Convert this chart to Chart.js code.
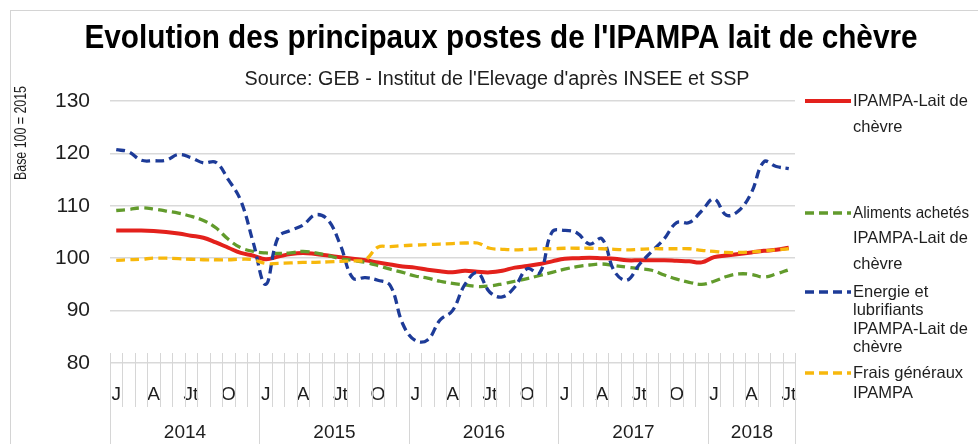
<!DOCTYPE html>
<html lang="fr">
<head>
<meta charset="utf-8">
<title>IPAMPA lait de chèvre</title>
<script src="https://cdn.jsdelivr.net/npm/chart.js@4/dist/chart.umd.min.js"></script>
<style>
  html, body { margin: 0; background: #fff; }
  #wrap { position: relative; width: 978px; height: 444px; overflow: hidden; }
  #frame { position: absolute; left: 10px; top: 10px; width: 980px; height: 450px;
           border-left: 1px solid #d4d4d4; border-top: 1px solid #d4d4d4; }
  canvas { position: absolute; left: 0; top: 0; }
</style>
</head>
<body>
<div id="wrap">
  <div id="frame"></div>
  <canvas id="chart" width="978" height="444"></canvas>
</div>
<script>
const FONT = "'Liberation Sans Narrow', 'Arial Narrow', 'Liberation Sans', Arial, sans-serif";
const INK = '#1e1e1e';

const years = ['2014', '2015', '2016', '2017', '2018'];
const quarterLetters = ['J', 'A', 'Jt', 'O'];

// Jan 2014 .. Jul 2018
const months = [];
years.forEach((y) => {
  const last = y === '2018' ? 7 : 12;
  for (let m = 1; m <= last; m++) months.push(`${y}-${String(m).padStart(2, '0')}`);
});

const ipampa = [
  105.3, 105.3, 105.3, 105.2, 105.0, 104.7, 104.3, 103.9, 103.0, 102.0, 101.0, 100.5,
  99.8, 100.3, 100.8, 101.0, 100.8, 100.5, 100.2, 99.9, 99.6, 99.2, 98.8, 98.4,
  98.2, 97.8, 97.5, 97.3, 97.6, 97.4, 97.3, 97.6, 98.2, 98.5, 98.9, 99.4,
  99.9, 100.0, 100.1, 100.0, 99.9, 99.6, 99.6, 99.6, 99.6, 99.5, 99.4, 99.2,
  100.2, 100.5, 100.8, 101.1, 101.4, 101.6, 102.0
];
const aliments = [
  109.1, 109.3, 109.6, 109.4, 109.0, 108.6, 108.0, 107.2, 105.8, 103.6, 102.0, 101.3,
  101.0, 100.9, 101.0, 101.3, 101.0, 100.5, 99.9, 99.6, 99.2, 98.6, 97.9, 97.3,
  96.6, 96.2, 95.6, 95.2, 94.9, 94.6, 94.7, 95.1, 95.6, 96.1, 96.7, 97.3,
  97.9, 98.4, 98.7, 98.9, 98.6, 98.3, 98.0, 97.7, 96.8, 96.0, 95.4, 95.0,
  95.6, 96.5, 97.0, 96.9, 96.4, 97.0, 97.8
];
const energie = [
  120.7, 120.3, 118.7, 118.6, 118.7, 119.8, 119.2, 118.2, 118.3, 115.0, 111.0, 103.0,
  95.0, 104.0, 105.3, 106.3, 108.3, 107.3, 102.5, 96.2, 96.3, 95.8, 94.8, 87.5,
  84.3, 84.4, 88.2, 90.0, 95.0, 97.2, 93.5, 92.6, 94.5, 98.0, 97.2, 105.0,
  105.3, 104.8, 102.7, 103.7, 97.5, 95.8, 98.8, 101.3, 103.7, 106.8, 106.8, 109.0,
  111.3, 108.2, 109.1, 112.5, 118.4, 117.5, 117.1
];
const frais = [
  99.6, 99.7, 99.8, 100.0, 100.0, 99.9, 99.8, 99.7, 99.7, 99.7, 99.8, 99.7,
  99.0, 99.0, 99.1, 99.2, 99.2, 99.3, 99.4, 99.5, 99.7, 102.1, 102.2, 102.4,
  102.5, 102.6, 102.7, 102.8, 102.9, 102.9, 101.9, 101.7, 101.6, 101.7, 101.8, 101.8,
  101.9, 101.9, 101.9, 101.8, 101.7, 101.6, 101.7, 101.8, 101.8, 101.8, 101.8, 101.5,
  101.3, 101.1, 101.1, 101.2, 101.4, 101.6, 101.8
];

const yTicks = [80, 90, 100, 110, 120, 130];

// legend text, one entry per line
const legendLines = [
  ['IPAMPA-Lait de', 'chèvre'],
  ['Aliments achetés', 'IPAMPA-Lait de', 'chèvre'],
  ['Energie et', 'lubrifiants', 'IPAMPA-Lait de', 'chèvre'],
  ['Frais généraux', 'IPAMPA']
];
const legendTop = [101, 213, 292, 373];
const legendLeading = [26, 25.5, 18.5, 20];

const series = [
  { label: 'IPAMPA-Lait de chèvre', data: ipampa, color: '#e3211c', dash: [], width: 4 },
  { label: 'Aliments achetés IPAMPA-Lait de chèvre', data: aliments, color: '#629b2c', dash: [9, 5], width: 3.3 },
  { label: 'Energie et lubrifiants IPAMPA-Lait de chèvre', data: energie, color: '#1d3b98', dash: [9, 5], width: 3.3 },
  { label: 'Frais généraux IPAMPA', data: frais, color: '#f7b80c', dash: [9, 5], width: 3.3 }
];

// the narrow face is not always installed, so long strings get a width cap
const headings = {
  id: 'headings',
  afterDraw(chart) {
    const { ctx } = chart;
    ctx.save();
    ctx.fillStyle = '#000';
    ctx.textAlign = 'center';
    ctx.textBaseline = 'middle';
    ctx.font = `bold 34px ${FONT}`;
    ctx.fillText("Evolution des principaux postes de l'IPAMPA lait de chèvre", 501, 39, 833);
    ctx.fillStyle = INK;
    ctx.font = `20px ${FONT}`;
    ctx.fillText("Source: GEB - Institut de l'Elevage d'après INSEE et SSP", 497, 79, 505);
    ctx.font = `16px ${FONT}`;
    ctx.translate(22, 133);
    ctx.rotate(-Math.PI / 2);
    ctx.fillText('Base 100 = 2015', 0, 0, 94);
    ctx.restore();
  }
};

// month ticks crossing the axis, year separators and year captions
const axisFurniture = {
  id: 'axisFurniture',
  beforeDatasetsDraw(chart) {
    const { ctx, chartArea } = chart;
    const x = chart.scales.x;
    const step = x.getPixelForValue(1) - x.getPixelForValue(0);
    const edge = (i) => Math.round(x.getPixelForValue(i) - step / 2) + 0.5;
    const base = chartArea.bottom;
    ctx.save();
    ctx.strokeStyle = '#d6d6d6';
    ctx.lineWidth = 1;
    for (let i = 0; i <= months.length; i++) {
      ctx.beginPath();
      ctx.moveTo(edge(i), base - 10);
      ctx.lineTo(edge(i), base + 44);
      ctx.stroke();
    }
    const starts = [];
    months.forEach((m, i) => { if (m.endsWith('-01')) starts.push(i); });
    starts.push(months.length);
    ctx.fillStyle = INK;
    ctx.font = `19px ${FONT}`;
    ctx.textAlign = 'center';
    ctx.textBaseline = 'middle';
    starts.forEach((s, k) => {
      ctx.beginPath();
      ctx.moveTo(edge(s), base);
      ctx.lineTo(edge(s), chart.height);
      ctx.stroke();
      if (k < years.length) {
        const mid = (edge(s) + edge(starts[k + 1])) / 2;
        ctx.fillText(years[k], mid, base + 70, 44);
      }
    });
    ctx.restore();
  }
};

const sideLegend = {
  id: 'sideLegend',
  afterDraw(chart) {
    const { ctx } = chart;
    ctx.save();
    ctx.font = `16.5px ${FONT}`;
    ctx.textBaseline = 'middle';
    ctx.textAlign = 'left';
    chart.data.datasets.forEach((ds, i) => {
      const y = legendTop[i];
      ctx.strokeStyle = ds.borderColor;
      ctx.lineWidth = ds.borderWidth;
      ctx.setLineDash(ds.borderDash || []);
      ctx.beginPath();
      ctx.moveTo(805, y);
      ctx.lineTo(851, y);
      ctx.stroke();
      ctx.setLineDash([]);
      ctx.fillStyle = INK;
      legendLines[i].forEach((line, k) => ctx.fillText(line, 853, y + k * legendLeading[i], 116));
    });
    ctx.restore();
  }
};

new Chart(document.getElementById('chart'), {
  type: 'line',
  data: {
    labels: months,
    datasets: series.map((s, i) => ({
      label: s.label,
      data: s.data,
      borderColor: s.color,
      backgroundColor: s.color,
      borderWidth: s.width,
      borderDash: s.dash,
      order: series.length - i,
      fill: false
    }))
  },
  options: {
    responsive: false,
    animation: false,
    layout: { padding: { top: 101, right: 183, bottom: 0, left: 0 } },
    elements: {
      point: { radius: 0 },
      line: { tension: 0.4, borderCapStyle: 'butt' }
    },
    plugins: {
      legend: { display: false },
      tooltip: { enabled: false }
    },
    scales: {
      x: {
        offset: true,
        grid: { display: false, drawTicks: false },
        border: { display: false },
        ticks: {
          autoSkip: false,
          maxRotation: 0,
          padding: 20,
          color: INK,
          font: { family: FONT, size: 19 },
          callback: (value, index) => (index % 3 === 0 ? quarterLetters[(index % 12) / 3] : '')
        },
        afterFit: (scale) => { scale.height = 81; }
      },
      y: {
        min: yTicks[0],
        max: yTicks[yTicks.length - 1],
        afterBuildTicks: (scale) => { scale.ticks = yTicks.map((v) => ({ value: v })); },
        grid: { color: '#d9d9d9', lineWidth: 1.5, drawTicks: false },
        border: { display: false },
        ticks: {
          padding: 20,
          color: INK,
          font: { family: FONT, size: 21 }
        },
        afterFit: (scale) => { scale.width = 110; }
      }
    }
  },
  plugins: [axisFurniture, headings, sideLegend]
});
</script>
</body>
</html>
